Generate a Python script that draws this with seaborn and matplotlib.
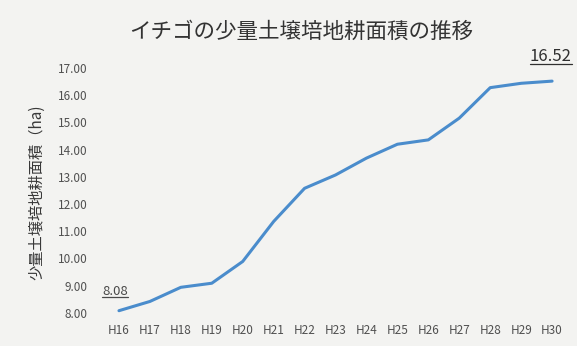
import matplotlib
matplotlib.use("Agg")
import matplotlib.pyplot as plt
import seaborn as sns
import pandas as pd
from matplotlib.lines import Line2D

years = ["H16", "H17", "H18", "H19", "H20", "H21", "H22", "H23", "H24", "H25",
         "H26", "H27", "H28", "H29", "H30"]
area = [8.08, 8.42, 8.94, 9.09, 9.89, 11.36, 12.58, 13.07, 13.69, 14.20,
        14.36, 15.16, 16.28, 16.44, 16.52]
yticks = [8, 9, 10, 11, 12, 13, 14, 15, 16, 17]

title = "イチゴの少量土壌培地耕面積の推移"
ylabel = "少量土壌培地耕面積（ha)"

sns.set_theme(style="white")
plt.rcParams["font.family"] = ["Noto Sans CJK JP", "DejaVu Sans"]

bg = "#f3f3f1"
fig = plt.figure(figsize=(5.77, 3.46), dpi=100, facecolor=bg)
ax = fig.add_axes([0.174, 0.080, 0.815, 0.739])
ax.set_facecolor(bg)

df = pd.DataFrame({"year": years, "area": area})
sns.lineplot(data=df, x="year", y="area", ax=ax, color="#4a8ccc", linewidth=2.2,
             sort=False)

ax.set_xlim(-0.6, 14.6)
ax.set_ylim(7.8, 17.2)
ax.set_yticks(yticks)
ax.set_yticklabels([f"{v:.2f}" for v in yticks])
ax.tick_params(axis="y", length=0, pad=9, labelsize=8.5, labelcolor="#505050")
ax.tick_params(axis="x", length=0, pad=4, labelsize=8.5, labelcolor="#505050")
for s in ax.spines.values():
    s.set_visible(False)
ax.set_xlabel("")
ax.set_ylabel(ylabel, fontsize=11, color="#383838")
ax.yaxis.set_label_coords(-0.118, 0.494)

fig.text(0.522, 0.907, title, ha="center", va="center", fontsize=15.5, color="#333333")

# data labels (first and last), underlined
t1 = ax.annotate(f"{area[0]:.2f}", xy=(0, area[0]), xytext=(-3, 14), textcoords="offset points",
                 ha="center", va="center", fontsize=9.5, color="#4a4a4a")
t2 = ax.annotate(f"{area[-1]:.2f}", xy=(14, area[-1]), xytext=(-1, 18), textcoords="offset points",
                 ha="center", va="center", fontsize=12, color="#303030")
fig.canvas.draw()
r = fig.canvas.get_renderer()
inv = fig.transFigure.inverted()
for t in (t1, t2):
    bb = t.get_window_extent(r)
    (x0, y0) = inv.transform((bb.x0, bb.y0 + 1))
    (x1, _) = inv.transform((bb.x1, bb.y0 + 1))
    fig.add_artist(Line2D([x0, x1], [y0, y0], transform=fig.transFigure,
                          color=t.get_color(), linewidth=0.9))

fig.savefig("out.png", dpi=100, facecolor=bg)
